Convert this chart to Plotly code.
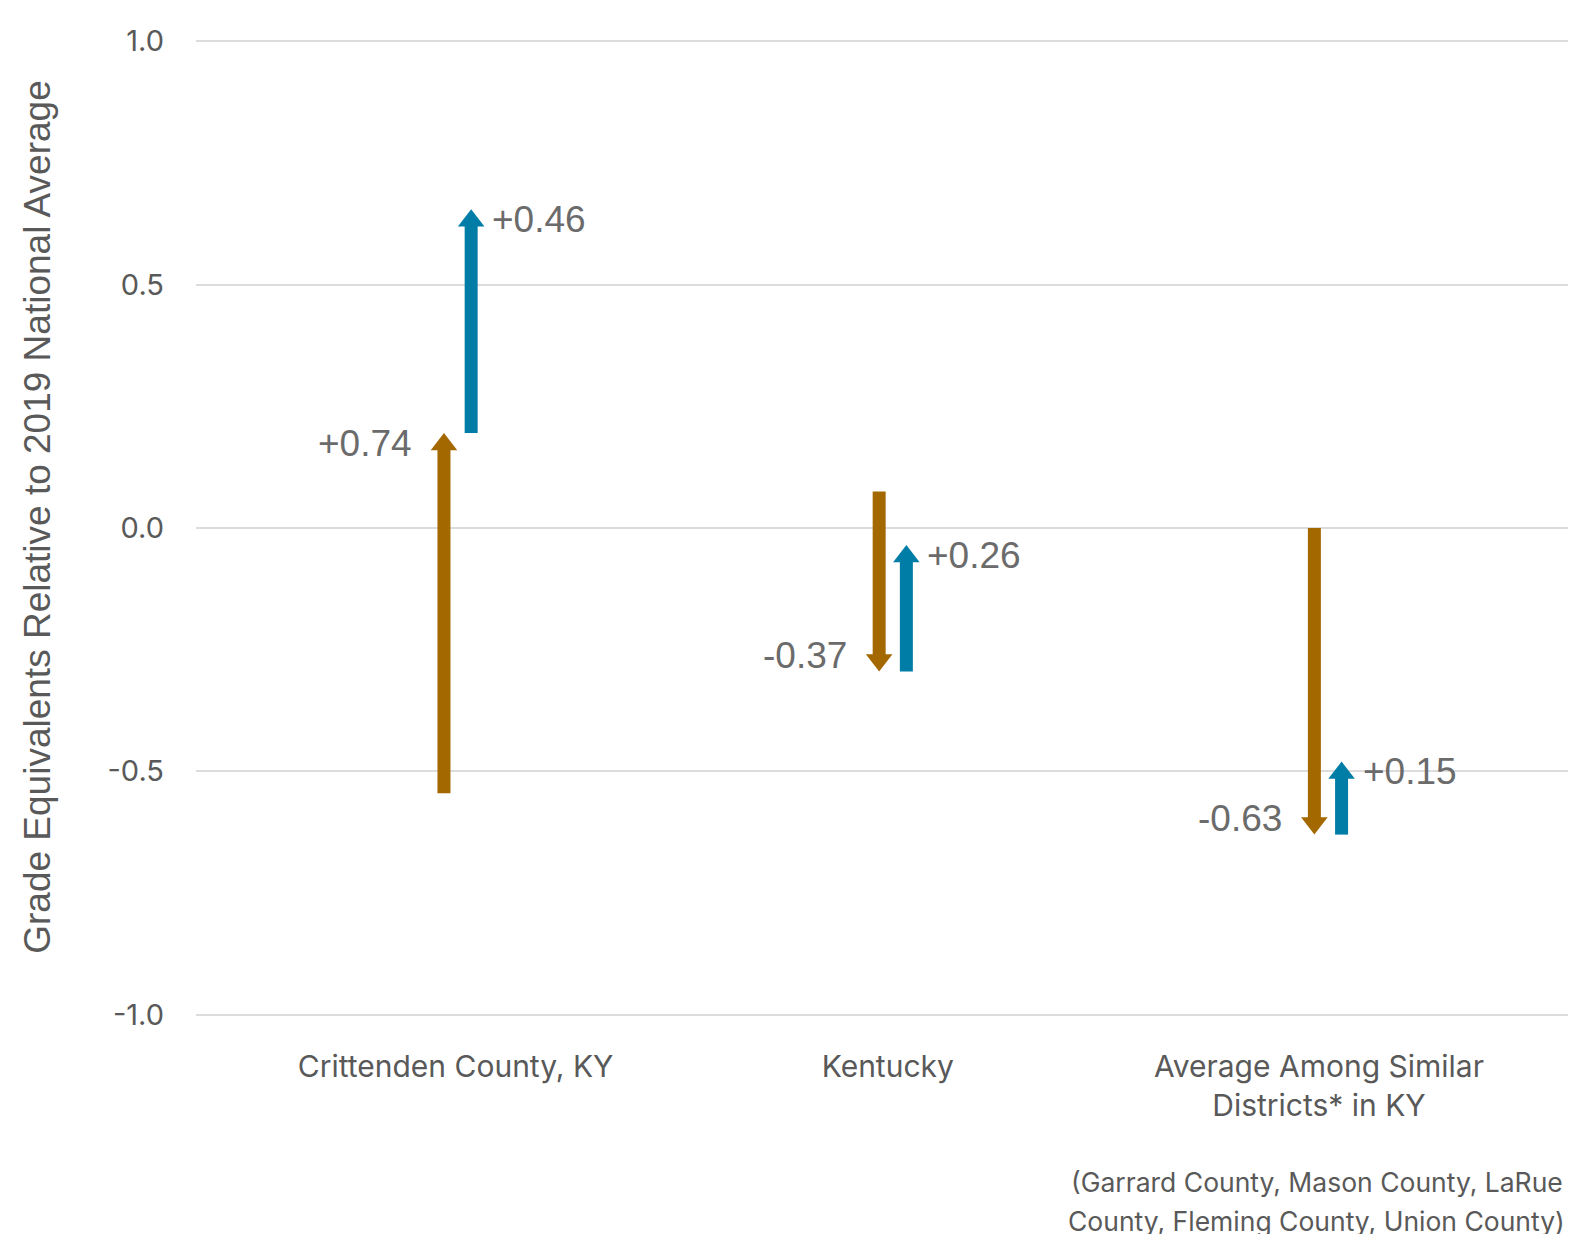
import plotly.graph_objects as go

# ---- data ----
categories = ["Crittenden County, KY", "Kentucky", "Average Among Similar<br>Districts* in KY"]
start_values = [-0.545, 0.075, 0.0]
change_first = [0.74, -0.37, -0.63]     # brown arrows
change_second = [0.46, 0.26, 0.15]      # blue arrows
label_first = ["+0.74", "-0.37", "-0.63"]
label_second = ["+0.46", "+0.26", "+0.15"]
y_tickvals = [-1.0, -0.5, 0.0, 0.5, 1.0]
y_ticktext = ["-1.0", "-0.5", "0.0", "0.5", "1.0"]
footnote_lines = ["(Garrard County, Mason County, LaRue", "County, Fleming County, Union County)"]
y_title = "Grade Equivalents Relative to 2019 National Average"

BROWN = "#A36800"
BLUE = "#007DA6"
TEXT = "#595959"
LABEL = "#6b6b6b"
SANS = "Inter, Roboto, sans-serif"
ARIAL = "Liberation Sans, Arial, sans-serif"

W, H = 1560, 1232
ML, MR, MT, MB = 188, 0, 9, 201
YR = [-1.05, 1.05]
XR = [-0.601, 2.5515]
plot_w = W - ML - MR
plot_h = H - MT - MB
py = plot_h / (YR[1] - YR[0])   # px per y unit
px = plot_w / (XR[1] - XR[0])   # px per x unit

x_pos = list(range(len(categories)))
label_shift_px = [-2, -5, -9]    # small horizontal nudge of category labels
tick_pos = [x + s / px for x, s in zip(x_pos, label_shift_px)]
OFF = 13.6 / px      # horizontal offset of each arrow from category centre
SHAFT_W = 13
HEAD = 23            # marker size
head_r = HEAD / 2 / py

fig = go.Figure()

def add_arrow(x, y0, y1, color):
    up = y1 > y0
    sgn = 1 if up else -1
    shaft_end = y1 - sgn * (HEAD * 0.7) / py
    fig.add_trace(go.Scatter(x=[x, x], y=[y0, shaft_end], mode="lines",
                             line=dict(color=color, width=SHAFT_W),
                             hoverinfo="skip", showlegend=False))
    fig.add_trace(go.Scatter(x=[x], y=[y1 - sgn * head_r], mode="markers",
                             marker=dict(symbol="triangle-up" if up else "triangle-down",
                                         size=HEAD, color=color, line=dict(width=0)),
                             hoverinfo="skip", showlegend=False))

for i, xc in enumerate(x_pos):
    s = start_values[i]
    m = s + change_first[i]
    e = m + change_second[i]
    xb = xc - OFF
    xl = xc + OFF
    add_arrow(xb, s, m, BROWN)
    add_arrow(xl, m, e, BLUE)
    fig.add_annotation(x=xb, y=m, text=label_first[i], showarrow=False,
                       xanchor="right", yanchor="middle", xshift=-30,
                       yshift=(-10 if change_first[i] > 0 else 16),
                       font=dict(family=ARIAL, size=37, color=LABEL))
    fig.add_annotation(x=xl, y=e, text=label_second[i], showarrow=False,
                       xanchor="left", yanchor="middle", xshift=19,
                       yshift=(-10 if change_second[i] > 0 else 16),
                       font=dict(family=ARIAL, size=37, color=LABEL))

fig.add_annotation(xref="paper", yref="paper", x=0, y=0.511, xshift=-158,
                   text=y_title, textangle=-90, showarrow=False,
                   xanchor="center", yanchor="middle",
                   font=dict(family=ARIAL, size=37, color=TEXT))

for j, line in enumerate(footnote_lines):
    fig.add_annotation(x=x_pos[2], xref="x", yref="paper", y=0, xshift=-11,
                       yshift=-(143 + 39 * j),
                       text=line, showarrow=False,
                       xanchor="center", yanchor="middle",
                       font=dict(family=SANS, size=26.5, color=TEXT))

fig.update_layout(
    width=W, height=H,
    margin=dict(l=ML, r=MR, t=MT, b=MB),
    plot_bgcolor="white", paper_bgcolor="white",
    showlegend=False,
    font=dict(family=SANS, color=TEXT),
)
fig.update_xaxes(range=XR, tickvals=tick_pos, ticktext=categories, showgrid=False,
                 zeroline=False, showline=False, ticks="",
                 ticklabelstandoff=7,
                 tickfont=dict(size=30, color=TEXT, family=SANS))
fig.update_yaxes(range=YR, tickvals=y_tickvals, ticktext=y_ticktext,
                 showgrid=True, gridcolor="#dcdcdc", gridwidth=2,
                 zeroline=False, showline=False, ticks="",
                 ticklabelstandoff=31,
                 tickfont=dict(size=29, color=TEXT, family=SANS))

fig.write_html("out.html")
